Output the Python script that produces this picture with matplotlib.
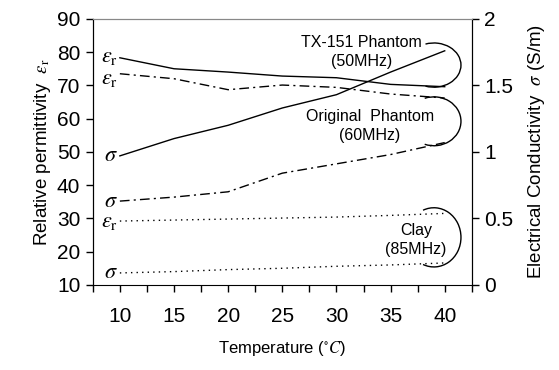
import matplotlib.pyplot as plt
from matplotlib.patches import Arc

plt.rcParams['font.family'] = ['Liberation Sans', 'DejaVu Sans']
plt.rcParams['mathtext.fontset'] = 'stix'

# temperatures (deg C)
temp = [10, 15, 20, 25, 30, 35, 40]

# TX-151 phantom (50MHz)
tx_eps = [78.3, 75.0, 74.0, 72.8, 72.3, 70.3, 69.6]
tx_sig = [0.97, 1.10, 1.20, 1.33, 1.43, 1.60, 1.76]

# original phantom (60MHz)
orig_eps = [73.5, 72.0, 68.7, 70.1, 69.4, 67.4, 66.2]
orig_sig = [0.63, 0.66, 0.70, 0.84, 0.91, 0.98, 1.07]

# clay (85MHz)
clay_eps = [29.2, 29.5, 29.8, 30.1, 30.4, 30.9, 31.5]
clay_sig = [0.09, 0.10, 0.115, 0.125, 0.14, 0.15, 0.165]

xticks = [10, 15, 20, 25, 30, 35, 40]

fig = plt.figure(figsize=(5.59, 3.70), dpi=100)
ax = fig.add_axes([0.166, 0.230, 0.678, 0.719])
ax2 = ax.twinx()

lw = 1.0
ax.plot(temp, tx_eps, color='black', lw=lw)
ax2.plot(temp, tx_sig, color='black', lw=lw)
ax.plot(temp, orig_eps, color='black', lw=lw, dashes=(7, 3, 1.5, 3))
ax2.plot(temp, orig_sig, color='black', lw=lw, dashes=(7, 3, 1.5, 3))
ax.plot(temp, clay_eps, color='black', lw=lw, dashes=(1, 3))
ax2.plot(temp, clay_sig, color='black', lw=lw, dashes=(1, 3))

ax.set_xlim(7.5, 42.5)
ax.set_ylim(10, 90)
ax2.set_ylim(0, 2)
ax.set_xticks(xticks)
ax.set_xticks([7.5 + 2.5 * i for i in range(15)], minor=True)
ax.set_yticks(range(10, 91, 10))
ax2.set_yticks([0, 0.5, 1, 1.5, 2])
ax2.set_yticklabels(['0', '0.5', '1', '1.5', '2'])

for a in (ax, ax2):
    a.tick_params(direction='out', length=5, width=1, labelsize=15, pad=4)
    a.tick_params(which='minor', direction='out', length=5, width=1)
ax.tick_params(axis='x', pad=11)
ax.spines['top'].set_color('#888888')
ax2.spines['top'].set_color('#888888')
ax2.spines['bottom'].set_visible(False)

ax.set_xlabel('Temperature ($^{\\circ}C$)', fontsize=12, labelpad=9)
ax.set_ylabel('Relative permittivity  $\\varepsilon_{\\rm r}$', fontsize=13.5, labelpad=3)
ax2.set_ylabel('Electrical Conductivity  $\\sigma$ (S/m)', fontsize=13.5, labelpad=9)

# curve labels at the left
lab_eps = '$\\varepsilon_{\\rm r}$'
lab_sig = '$\\sigma$'
for yv, t in [(tx_eps[0] + 0.5, lab_eps), (orig_eps[0] - 1.5, lab_eps), (clay_eps[0], lab_eps),
              (10 + tx_sig[0] * 40, lab_sig), (10 + orig_sig[0] * 40, lab_sig),
              (10 + clay_sig[0] * 40, lab_sig)]:
    ax.text(9.8, yv, t, fontsize=16, ha='right', va='center')

# group brackets
for cy, h in [(76.1, 13.3), (59.2, 14.7), (24.3, 17.8)]:
    ax.add_patch(Arc((39.0, cy), 5.0, h, theta1=-97, theta2=97, color='black', lw=1))

ax.text(32.3, 80.1, 'TX-151 Phantom\n(50MHz)', fontsize=11.5, ha='center', va='center',
        linespacing=1.3)
ax.text(33.1, 57.8, 'Original  Phantom\n(60MHz)', fontsize=11.5, ha='center', va='center',
        linespacing=1.3)
ax.text(37.35, 23.5, 'Clay\n(85MHz)', fontsize=11.5, ha='center', va='center',
        linespacing=1.3)

fig.savefig('out.png', dpi=100)
